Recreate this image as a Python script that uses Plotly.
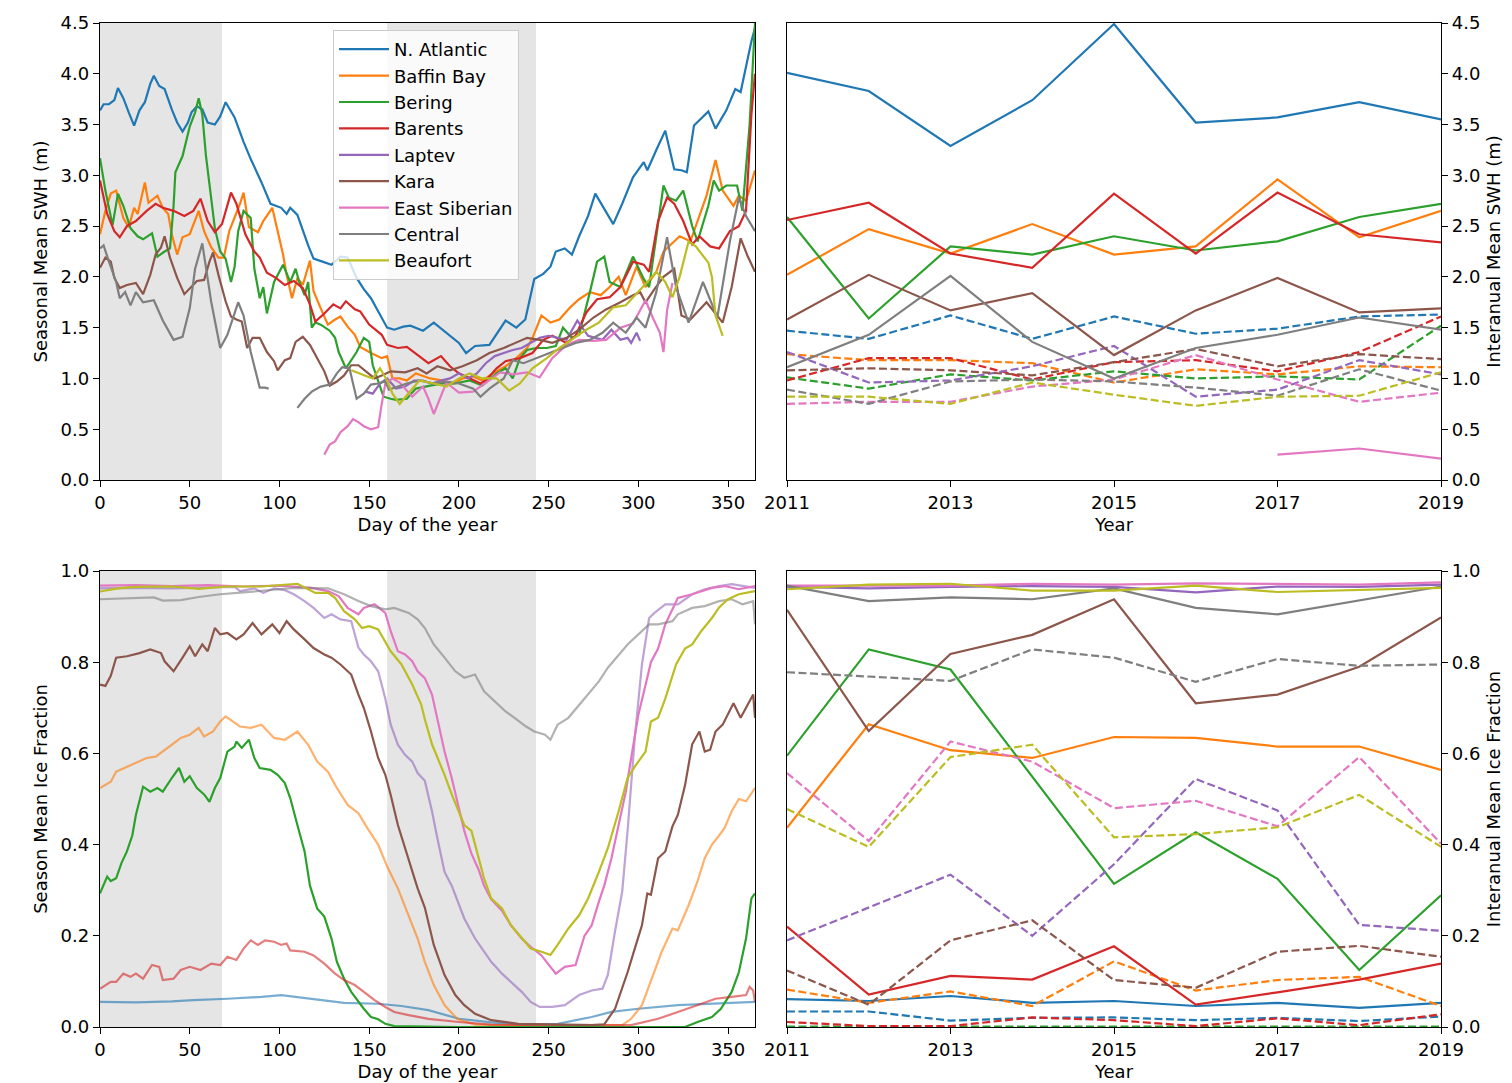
import plotly.graph_objects as go

# ---------------- categories / styling keys ----------------
REGIONS = ["N. Atlantic", "Baffin Bay", "Bering", "Barents", "Laptev",
           "Kara", "East Siberian", "Central", "Beaufort"]
COLORS = ["#1f77b4", "#ff7f0e", "#2ca02c", "#d62728", "#9467bd",
          "#8c564b", "#e377c2", "#7f7f7f", "#bcbd22"]
YEARS = [2011, 2012, 2013, 2014, 2015, 2016, 2017, 2018, 2019]
YEAR_TICKS = [2011, 2013, 2015, 2017, 2019]
DAY_TICKS = [0, 50, 100, 150, 200, 250, 300, 350]
SHADE_PERIODS = [(0, 68), (160, 243)]
ICE_FADED = ["N. Atlantic", "Baffin Bay", "Barents", "Laptev", "Central"]

# ---------------- seasonal mean SWH (day, m) ----------------
SWH_NATL = [(0,3.64),(2,3.70),(5,3.70),(8,3.74),(10,3.86),(13,3.76),(16,3.62),(19,3.49),(22,3.64),(25,3.72),
            (28,3.90),(30,3.98),(33,3.88),(36,3.85),(40,3.65),(43,3.52),(46,3.43),(49,3.52),(51,3.62),(54,3.68),
            (57,3.65),(60,3.52),(64,3.50),(67,3.58),(70,3.72),(75,3.57),(80,3.33),(84,3.16),(90,2.93),(95,2.72),
            (101,2.68),(104,2.62),(106,2.68),(110,2.61),(116,2.31),(119,2.18),(124,2.15),(129,2.12),(134,2.20),
            (138,2.19),(143,1.99),(147,1.88),(151,1.79),(155,1.66),(160,1.50),(164,1.48),(169,1.51),(173,1.52),
            (180,1.47),(186,1.55),(193,1.45),(200,1.35),(204,1.25),(209,1.32),(217,1.33),(226,1.57),(232,1.50),
            (237,1.58),(242,1.98),(247,2.03),(251,2.10),(254,2.25),(259,2.28),(263,2.22),(267,2.40),(272,2.60),
            (276,2.82),(280,2.70),(286,2.52),(291,2.72),(297,2.98),(303,3.13),(305,3.05),(310,3.25),(315,3.44),
            (320,3.06),(324,3.05),(327,3.03),(331,3.49),(339,3.63),(343,3.46),(349,3.64),(354,3.85),(357,3.82),
            (363,4.32),(365,4.45)]
SWH_BAFFIN = [(0,2.42),(3,2.65),(6,2.82),(9,2.85),(13,2.58),(16,2.49),(19,2.68),(21,2.62),(25,2.93),(27,2.73),
              (32,2.80),(35,2.68),(38,2.62),(40,2.42),(43,2.22),(46,2.39),(50,2.42),(55,2.65),(58,2.45),(62,2.29),
              (66,2.19),(69,2.19),(72,2.45),(76,2.62),(78,2.72),(80,2.83),(83,2.49),(88,2.44),(91,2.55),(96,2.68),
              (99,2.45),(102,2.22),(104,2.02),(107,1.79),(110,1.99),(113,1.92),(117,2.16),(119,1.86),(123,1.69),
              (127,1.53),(131,1.58),(134,1.61),(138,1.51),(142,1.43),(145,1.31),(151,1.25),(157,1.20),(160,1.22),
              (163,1.00),(167,1.00),(171,0.98),(176,1.05),(184,1.00),(191,0.98),(197,0.95),(202,1.00),(208,1.02),
              (213,0.98),(219,1.05),(226,1.12),(232,1.20),(238,1.30),(241,1.40),(246,1.62),(251,1.55),(256,1.58),
              (262,1.70),(267,1.78),(273,1.85),(279,1.82),(284,1.90),(289,2.00),(293,1.82),(299,2.10),(304,1.90),
              (310,2.05),(314,2.25),(317,2.30),(323,2.40),(329,2.35),(332,2.50),(338,2.80),(343,3.15),(347,2.85),
              (353,2.70),(356,2.80),(360,2.75),(365,3.05)]
SWH_BERING = [(0,3.17),(3,2.85),(7,2.51),(10,2.82),(13,2.70),(17,2.48),(21,2.40),(24,2.37),(29,2.43),(32,2.20),
              (36,2.25),(39,2.28),(41,2.70),(42,3.03),(46,3.19),(50,3.48),(53,3.62),(55,3.76),(57,3.60),(59,3.20),
              (61,2.91),(64,2.48),(67,2.25),(70,2.18),(73,1.95),(75,2.10),(77,2.45),(80,2.65),(84,2.58),(86,2.08),
              (89,1.79),(91,1.90),(93,1.64),(97,1.95),(102,2.12),(106,1.95),(109,2.08),(111,1.95),(114,1.82),
              (116,1.95),(118,1.50),(120,1.55),(123,1.53),(128,1.47),(131,1.40),(133,1.26),(137,1.10),(140,1.18),
              (143,1.26),(147,1.40),(150,1.36),(152,1.13),(156,0.91),(158,0.82),(162,0.80),(165,0.79),(171,0.80),
              (176,0.90),(184,0.93),(191,0.95),(198,0.95),(206,0.98),(213,0.93),(221,1.05),(226,1.10),(230,1.00),
              (234,1.20),(238,1.28),(243,1.30),(249,1.30),(254,1.32),(258,1.50),(263,1.40),(267,1.43),(273,1.85),
              (277,2.15),(281,2.20),(284,1.95),(290,1.90),(297,2.20),(303,1.98),(306,1.90),(310,2.40),(314,2.90),
              (317,2.78),(321,2.75),(325,2.85),(330,2.50),(333,2.35),(339,2.70),(342,2.95),(345,2.85),(349,2.90),
              (355,2.90),(358,2.65),(362,3.50),(365,4.50)]
SWH_BARENTS = [(0,2.95),(4,2.62),(8,2.45),(11,2.39),(15,2.50),(20,2.55),(26,2.65),(31,2.72),(35,2.68),(41,2.65),
               (47,2.60),(52,2.65),(56,2.77),(60,2.55),(64,2.44),(68,2.52),(73,2.83),(76,2.72),(81,2.42),(86,2.25),
               (89,2.19),(93,2.04),(98,1.99),(103,1.92),(108,1.96),(113,1.89),(117,1.73),(120,1.56),(125,1.64),
               (130,1.73),(134,1.69),(137,1.76),(142,1.68),(145,1.66),(150,1.53),(157,1.43),(160,1.33),(166,1.30),
               (171,1.31),(177,1.23),(183,1.15),(190,1.22),(195,1.12),(200,1.05),(206,1.00),(212,0.95),(215,0.98),
               (221,1.10),(226,1.17),(234,1.20),(241,1.25),(247,1.38),(252,1.42),(260,1.35),(265,1.42),(271,1.65),
               (277,1.78),(284,1.80),(290,1.90),(297,2.15),(303,2.12),(306,2.05),(311,2.55),(316,2.78),(320,2.72),
               (325,2.55),(330,2.32),(334,2.40),(340,2.30),(345,2.28),(351,2.45),(356,2.50),(360,2.65),(363,3.60),
               (365,4.00)]
SWH_LAPTEV = [(148,0.87),(152,0.85),(156,0.95),(160,1.00),(165,0.90),(170,0.92),(175,0.98),(180,0.98),(185,0.95),
              (190,0.98),(195,1.00),(200,1.05),(205,1.00),(210,1.05),(215,1.15),(220,1.22),(225,1.25),(230,1.28),
              (235,1.30),(240,1.35),(245,1.40),(250,1.42),(255,1.40),(260,1.38),(266,1.57),(272,1.42),(276,1.40),
              (280,1.38),(285,1.48),(290,1.38),(294,1.40),(296,1.35),(299,1.45),(301,1.37)]
SWH_KARA = [(0,2.09),(3,2.19),(6,2.15),(8,1.99),(11,1.89),(15,1.92),(20,1.94),(24,1.83),(28,2.02),(31,2.22),
            (34,2.29),(36,2.40),(39,2.19),(43,1.99),(47,1.83),(50,1.89),(54,1.96),(58,1.97),(61,2.15),(63,2.24),
            (66,2.02),(70,1.76),(73,1.61),(76,1.58),(79,1.56),(82,1.30),(85,1.40),(89,1.40),(93,1.26),(97,1.17),
            (99,1.08),(103,1.18),(106,1.20),(109,1.36),(113,1.41),(117,1.33),(121,1.20),(125,1.07),(128,0.93),
            (132,0.97),(136,1.03),(140,1.13),(144,1.13),(148,1.07),(153,1.00),(157,1.03),(162,1.07),(170,1.06),
            (177,1.10),(182,1.05),(188,1.12),(195,1.08),(202,1.12),(210,1.18),(217,1.25),(225,1.30),(232,1.35),
            (238,1.40),(245,1.38),(252,1.35),(260,1.40),(267,1.48),(275,1.60),(282,1.68),(290,1.75),(297,1.82),
            (301,1.85),(304,1.75),(309,1.88),(314,2.00),(320,2.08),(324,1.62),(329,1.58),(338,1.75),(347,1.55),
            (352,1.90),(357,2.38),(361,2.20),(365,2.05)]
SWH_ESIB = [(125,0.25),(128,0.35),(131,0.38),(134,0.47),(138,0.53),(141,0.60),(144,0.57),(147,0.53),(151,0.50),
            (155,0.52),(157,0.75),(159,0.95),(163,1.00),(167,0.96),(174,0.82),(180,0.92),(183,0.80),(186,0.65),
            (193,0.96),(200,0.86),(208,0.87),(215,0.96),(223,1.06),(230,1.04),(238,1.06),(245,1.01),(252,1.20),
            (260,1.33),(267,1.38),(275,1.37),(282,1.38),(290,1.50),(297,1.54),(304,1.77),(308,1.60),(312,1.45),
            (314,1.26),(316,1.67),(319,1.94)]
SWH_CENTRAL = [(0,2.28),(2,2.31),(5,2.15),(9,1.95),(11,1.79),(14,1.85),(17,1.72),(20,1.85),(24,1.75),(30,1.77),
               (35,1.57),(41,1.38),(46,1.41),(50,1.69),(53,2.08),(57,2.33),(62,1.75),(67,1.30),(71,1.43),(77,1.75),
               (80,1.62),(84,1.26),(89,0.91),(92,0.91),(94,0.90),(100,None),(110,0.71),(114,0.80),(118,0.87),
               (123,0.92),(128,0.94),(132,1.05),(135,1.11),(139,1.10),(143,0.80),(147,0.85),(151,0.94),(155,0.95),
               (159,0.97),(161,0.89),(171,0.95),(178,0.98),(186,0.95),(193,0.97),(200,0.95),(208,0.90),(212,0.82),
               (217,0.90),(225,1.00),(230,1.18),(236,1.15),(243,1.20),(251,1.25),(258,1.30),(265,1.35),(273,1.38),
               (280,1.45),(286,1.55),(293,1.45),(299,1.60),(304,1.50),(310,1.85),(316,2.39),(321,1.90),(328,1.55),
               (336,1.95),(344,1.60),(351,2.35),(356,2.78),(360,2.60),(365,2.45)]
SWH_BEAUFORT = [(140,1.08),(145,1.05),(149,1.02),(152,1.00),(156,1.10),(160,0.98),(163,0.85),(167,0.75),
                (172,0.85),(178,0.98),(186,0.95),(193,0.92),(200,1.00),(206,1.05),(213,1.00),(221,1.00),
                (228,0.88),(234,0.95),(241,1.10),(249,1.20),(256,1.30),(264,1.40),(271,1.48),(278,1.55),
                (286,1.70),(293,1.72),(300,1.85),(305,1.95),(310,2.05),(315,1.95),(319,1.80),(323,2.00),
                (328,2.35),(332,2.30),(339,2.14),(341,2.00),(343,1.62),(347,1.42)]

# ---------------- seasonal mean ice fraction (day, fraction) ----------------
ICE_NATL = [(0,0.055),(20,0.054),(40,0.056),(52,0.059),(71,0.062),(90,0.066),(101,0.070),(118,0.062),
            (136,0.053),(155,0.051),(168,0.046),(183,0.037),(200,0.018),(218,0.010),(237,0.005),(255,0.007),
            (274,0.022),(285,0.033),(300,0.040),(322,0.048),(345,0.051),(365,0.055)]
ICE_BAFFIN = [(0,0.524),(6,0.538),(9,0.56),(15,0.571),(20,0.579),(26,0.59),(31,0.593),(35,0.604),(40,0.619),
              (45,0.634),(50,0.641),(55,0.656),(58,0.637),(63,0.648),(67,0.67),(70,0.681),(75,0.667),(78,0.659),
              (84,0.656),(90,0.663),(97,0.634),(103,0.63),(110,0.648),(116,0.619),(121,0.582),(127,0.56),
              (132,0.524),(138,0.487),(144,0.469),(149,0.436),(155,0.40),(160,0.352),(166,0.304),(172,0.245),
              (177,0.194),(181,0.143),(186,0.092),(192,0.048),(199,0.018),(209,0.005),(240,0.003),(291,0.004),
              (296,0.018),(302,0.048),(307,0.10),(313,0.165),(319,0.216),(322,0.212),(328,0.267),(333,0.32),
              (337,0.37),(341,0.40),(345,0.42),(348,0.436),(352,0.473),(356,0.50),(360,0.495),(365,0.524)]
ICE_BERING = [(0,0.293),(4,0.33),(6,0.32),(9,0.326),(12,0.36),(15,0.385),(18,0.42),(20,0.465),(24,0.527),
              (28,0.516),(32,0.524),(35,0.516),(40,0.546),(44,0.568),(47,0.538),(50,0.55),(54,0.524),(58,0.51),
              (61,0.494),(64,0.524),(67,0.546),(71,0.604),(75,0.615),(76,0.626),(79,0.612),(83,0.63),(86,0.59),
              (89,0.568),(95,0.564),(99,0.553),(103,0.535),(106,0.502),(110,0.443),(114,0.385),(117,0.31),
              (121,0.26),(125,0.242),(129,0.194),(132,0.143),(136,0.106),(140,0.077),(144,0.055),(147,0.04),
              (151,0.022),(155,0.017),(159,0.007),(164,0.002),(200,0.0),(326,0.0),(333,0.011),(341,0.022),
              (346,0.04),(352,0.077),(356,0.12),(360,0.194),(363,0.282),(365,0.293)]
ICE_BARENTS = [(0,0.084),(6,0.099),(9,0.099),(13,0.117),(17,0.11),(20,0.117),(24,0.106),(29,0.136),(33,0.132),
               (35,0.103),(41,0.106),(45,0.125),(50,0.132),(56,0.125),(62,0.139),(67,0.136),(71,0.154),(76,0.147),
               (80,0.172),(84,0.19),(88,0.18),(92,0.19),(97,0.187),(101,0.18),(104,0.183),(106,0.168),(114,0.165),
               (119,0.157),(125,0.139),(131,0.117),(136,0.103),(142,0.092),(147,0.077),(153,0.059),(159,0.044),
               (164,0.033),(172,0.026),(183,0.018),(200,0.011),(218,0.005),(296,0.004),(304,0.011),(311,0.018),
               (322,0.033),(333,0.048),(343,0.062),(352,0.066),(360,0.07),(362,0.088),(364,0.08),(365,0.055)]
ICE_LAPTEV = [(0,0.962),(20,0.963),(40,0.962),(60,0.964),(75,0.965),(78,0.956),(86,0.962),(91,0.952),(97,0.962),
              (103,0.958),(108,0.949),(114,0.934),(119,0.919),(125,0.897),(129,0.905),(134,0.894),(140,0.89),
              (144,0.832),(147,0.817),(151,0.802),(155,0.78),(159,0.72),(162,0.663),(166,0.619),(170,0.597),
              (174,0.582),(177,0.557),(181,0.54),(185,0.473),(188,0.414),(192,0.34),(196,0.31),(200,0.267),
              (203,0.238),(209,0.194),(214,0.165),(218,0.143),(224,0.117),(229,0.099),(235,0.077),(240,0.055),
              (245,0.044),(252,0.044),(259,0.048),(267,0.07),(274,0.08),(280,0.084),(283,0.114),(287,0.21),
              (291,0.297),(294,0.43),(298,0.634),(302,0.795),(306,0.897),(309,0.908),(315,0.927),(322,0.927),
              (330,0.949),(337,0.96),(345,0.967),(352,0.971),(365,0.963)]
ICE_KARA = [(0,0.751),(3,0.748),(6,0.77),(9,0.81),(15,0.813),(19,0.817),(22,0.82),(28,0.828),(34,0.82),(36,0.802),
            (41,0.78),(46,0.81),(50,0.835),(53,0.813),(57,0.839),(60,0.824),(64,0.875),(67,0.861),(71,0.864),
            (76,0.85),(80,0.861),(85,0.886),(90,0.861),(96,0.883),(100,0.864),(104,0.89),(108,0.872),(114,0.85),
            (119,0.831),(125,0.817),(129,0.81),(134,0.795),(140,0.773),(144,0.729),(147,0.70),(151,0.648),
            (155,0.59),(159,0.553),(162,0.509),(166,0.443),(170,0.392),(174,0.34),(177,0.304),(181,0.262),
            (186,0.18),(192,0.114),(198,0.07),(203,0.048),(209,0.029),(218,0.015),(233,0.007),(274,0.004),
            (281,0.006),(287,0.04),(291,0.084),(294,0.12),(298,0.172),(302,0.223),(305,0.293),(307,0.29),
            (311,0.37),(315,0.385),(319,0.44),(322,0.465),(326,0.53),(330,0.62),(334,0.648),(337,0.604),
            (340,0.608),(343,0.648),(347,0.663),(350,0.685),(353,0.71),(357,0.678),(360,0.70),(364,0.729),
            (365,0.678)]
ICE_ESIB = [(0,0.968),(20,0.969),(40,0.967),(60,0.969),(80,0.966),(100,0.968),(118,0.963),(127,0.956),
            (133,0.945),(138,0.919),(144,0.905),(147,0.919),(153,0.927),(159,0.908),(162,0.868),(166,0.824),
            (170,0.817),(174,0.802),(177,0.78),(181,0.765),(185,0.729),(188,0.678),(192,0.604),(196,0.546),
            (200,0.48),(203,0.43),(207,0.38),(211,0.345),(214,0.31),(218,0.28),(224,0.255),(229,0.223),
            (235,0.194),(240,0.176),(246,0.157),(250,0.136),(254,0.117),(259,0.132),(265,0.136),(270,0.20),
            (274,0.223),(278,0.275),(281,0.31),(285,0.37),(289,0.443),(293,0.516),(296,0.59),(300,0.685),
            (304,0.75),(307,0.80),(311,0.83),(315,0.883),(319,0.916),(322,0.941),(330,0.949),(341,0.963),
            (348,0.967),(356,0.96),(365,0.967)]
ICE_CENTRAL = [(0,0.938),(15,0.94),(30,0.942),(35,0.935),(45,0.936),(55,0.943),(67,0.949),(80,0.953),(90,0.956),
               (108,0.963),(127,0.962),(136,0.949),(144,0.934),(151,0.923),(159,0.916),(164,0.919),(172,0.908),
               (177,0.894),(181,0.875),(186,0.839),(192,0.81),(198,0.78),(203,0.766),(209,0.773),(214,0.736),
               (220,0.714),(226,0.692),(231,0.678),(237,0.66),(242,0.648),(248,0.641),(251,0.63),(255,0.663),
               (261,0.678),(267,0.707),(272,0.729),(278,0.758),(283,0.788),(289,0.817),(294,0.839),(300,0.861),
               (306,0.883),(311,0.883),(319,0.89),(322,0.905),(330,0.919),(337,0.923),(345,0.934),(352,0.938),
               (358,0.927),(364,0.934),(365,0.883)]
ICE_BEAUFORT = [(0,0.955),(10,0.962),(20,0.965),(40,0.966),(55,0.961),(70,0.966),(90,0.966),(110,0.972),
                (116,0.96),(120,0.952),(127,0.952),(131,0.941),(136,0.912),(142,0.894),(146,0.875),(150,0.879),
                (155,0.872),(159,0.846),(162,0.824),(168,0.795),(174,0.751),(179,0.707),(181,0.675),(185,0.62),
                (188,0.593),(192,0.553),(196,0.51),(200,0.473),(203,0.443),(207,0.43),(211,0.37),(214,0.326),
                (218,0.282),(224,0.26),(229,0.223),(235,0.194),(240,0.172),(246,0.165),(251,0.158),(255,0.18),
                (261,0.216),(267,0.245),(272,0.282),(278,0.34),(283,0.392),(289,0.473),(294,0.546),(298,0.571),
                (304,0.604),(307,0.67),(311,0.678),(315,0.72),(321,0.795),(326,0.83),(330,0.839),(335,0.868),
                (341,0.897),(345,0.92),(350,0.938),(356,0.949),(365,0.956)]

# ---------------- interannual mean SWH (m), one value per year ----------------
IA_SWH_SOLID_NATL = [4.01, 3.83, 3.29, 3.74, 4.49, 3.52, 3.57, 3.72, 3.55]
IA_SWH_SOLID_BAFFIN = [2.02, 2.47, 2.23, 2.52, 2.22, 2.30, 2.96, 2.39, 2.65]
IA_SWH_SOLID_BERING = [2.59, 1.59, 2.30, 2.22, 2.40, 2.26, 2.35, 2.59, 2.72]
IA_SWH_SOLID_BARENTS = [2.56, 2.73, 2.23, 2.09, 2.82, 2.23, 2.83, 2.42, 2.34]
IA_SWH_SOLID_LAPTEV = [None] * 9
IA_SWH_SOLID_KARA = [1.58, 2.02, 1.67, 1.84, 1.23, 1.67, 1.99, 1.65, 1.69]
IA_SWH_SOLID_ESIB = [None, None, None, None, None, None, 0.25, 0.31, 0.21]
IA_SWH_SOLID_CENTRAL = [1.11, 1.43, 2.01, 1.36, 1.00, 1.30, 1.43, 1.60, 1.48]
IA_SWH_SOLID_BEAUFORT = [None] * 9

IA_SWH_DASH_NATL = [1.47, 1.39, 1.62, 1.39, 1.61, 1.44, 1.49, 1.61, 1.63]
IA_SWH_DASH_BAFFIN = [1.24, 1.18, 1.18, 1.15, 0.96, 1.09, 1.04, 1.12, 1.11]
IA_SWH_DASH_BERING = [1.01, 0.90, 1.04, 0.98, 1.07, 1.00, 1.02, 0.99, 1.52]
IA_SWH_DASH_BARENTS = [0.98, 1.20, 1.20, 0.99, 1.16, 1.18, 1.07, 1.26, 1.61]
IA_SWH_DASH_LAPTEV = [1.26, 0.96, 0.98, 1.12, 1.32, 0.82, 0.89, 1.18, 1.04]
IA_SWH_DASH_KARA = [1.08, 1.10, 1.08, 1.03, 1.16, 1.29, 1.12, 1.24, 1.19]
IA_SWH_DASH_ESIB = [0.75, 0.77, 0.77, 0.92, 0.99, 1.23, 0.99, 0.77, 0.86]
IA_SWH_DASH_CENTRAL = [0.89, 0.75, 0.97, 0.99, 0.97, 0.91, 0.83, 1.09, 0.88]
IA_SWH_DASH_BEAUFORT = [0.82, 0.82, 0.75, 0.96, 0.84, 0.73, 0.82, 0.83, 1.06]

# ---------------- interannual mean ice fraction, one value per year ----------------
IA_ICE_SOLID_NATL = [0.061, 0.057, 0.068, 0.053, 0.057, 0.046, 0.053, 0.042, 0.053]
IA_ICE_SOLID_BAFFIN = [0.437, 0.664, 0.607, 0.590, 0.636, 0.634, 0.615, 0.615, 0.564]
IA_ICE_SOLID_BERING = [0.595, 0.828, 0.784, 0.550, 0.314, 0.427, 0.325, 0.125, 0.289]
IA_ICE_SOLID_BARENTS = [0.220, 0.071, 0.112, 0.104, 0.177, 0.049, 0.076, 0.104, 0.139]
IA_ICE_SOLID_LAPTEV = [0.965, 0.962, 0.965, 0.967, 0.965, 0.953, 0.966, 0.965, 0.970]
IA_ICE_SOLID_KARA = [0.915, 0.649, 0.818, 0.860, 0.938, 0.710, 0.729, 0.790, 0.898]
IA_ICE_SOLID_ESIB = [0.968, 0.968, 0.968, 0.972, 0.970, 0.973, 0.972, 0.970, 0.975]
IA_ICE_SOLID_CENTRAL = [0.968, 0.934, 0.942, 0.938, 0.962, 0.919, 0.905, 0.936, 0.966]
IA_ICE_SOLID_BEAUFORT = [0.960, 0.970, 0.972, 0.957, 0.957, 0.968, 0.954, 0.959, 0.963]

IA_ICE_DASH_NATL = [0.034, 0.034, 0.014, 0.020, 0.021, 0.015, 0.020, 0.013, 0.023]
IA_ICE_DASH_BAFFIN = [0.082, 0.053, 0.078, 0.046, 0.144, 0.080, 0.103, 0.110, 0.046]
IA_ICE_DASH_BERING = [0.001, 0.001, 0.001, 0.001, 0.001, 0.001, 0.001, 0.001, 0.001]
IA_ICE_DASH_BARENTS = [0.011, 0.002, 0.002, 0.021, 0.015, 0.002, 0.019, 0.004, 0.028]
IA_ICE_DASH_LAPTEV = [0.190, 0.262, 0.334, 0.200, 0.357, 0.544, 0.475, 0.224, 0.211]
IA_ICE_DASH_KARA = [0.124, 0.049, 0.190, 0.234, 0.103, 0.086, 0.165, 0.178, 0.154]
IA_ICE_DASH_ESIB = [0.557, 0.408, 0.626, 0.582, 0.480, 0.496, 0.440, 0.592, 0.402]
IA_ICE_DASH_CENTRAL = [0.778, 0.768, 0.759, 0.828, 0.810, 0.757, 0.807, 0.792, 0.795]
IA_ICE_DASH_BEAUFORT = [0.478, 0.395, 0.592, 0.619, 0.416, 0.423, 0.438, 0.509, 0.395]

SWH_SEASONAL = [SWH_NATL, SWH_BAFFIN, SWH_BERING, SWH_BARENTS, SWH_LAPTEV,
                SWH_KARA, SWH_ESIB, SWH_CENTRAL, SWH_BEAUFORT]
ICE_SEASONAL = [ICE_NATL, ICE_BAFFIN, ICE_BERING, ICE_BARENTS, ICE_LAPTEV,
                ICE_KARA, ICE_ESIB, ICE_CENTRAL, ICE_BEAUFORT]
IA_SWH_SOLID = [IA_SWH_SOLID_NATL, IA_SWH_SOLID_BAFFIN, IA_SWH_SOLID_BERING, IA_SWH_SOLID_BARENTS,
                IA_SWH_SOLID_LAPTEV, IA_SWH_SOLID_KARA, IA_SWH_SOLID_ESIB, IA_SWH_SOLID_CENTRAL,
                IA_SWH_SOLID_BEAUFORT]
IA_SWH_DASH = [IA_SWH_DASH_NATL, IA_SWH_DASH_BAFFIN, IA_SWH_DASH_BERING, IA_SWH_DASH_BARENTS,
               IA_SWH_DASH_LAPTEV, IA_SWH_DASH_KARA, IA_SWH_DASH_ESIB, IA_SWH_DASH_CENTRAL,
               IA_SWH_DASH_BEAUFORT]
IA_ICE_SOLID = [IA_ICE_SOLID_NATL, IA_ICE_SOLID_BAFFIN, IA_ICE_SOLID_BERING, IA_ICE_SOLID_BARENTS,
                IA_ICE_SOLID_LAPTEV, IA_ICE_SOLID_KARA, IA_ICE_SOLID_ESIB, IA_ICE_SOLID_CENTRAL,
                IA_ICE_SOLID_BEAUFORT]
IA_ICE_DASH = [IA_ICE_DASH_NATL, IA_ICE_DASH_BAFFIN, IA_ICE_DASH_BERING, IA_ICE_DASH_BARENTS,
               IA_ICE_DASH_LAPTEV, IA_ICE_DASH_KARA, IA_ICE_DASH_ESIB, IA_ICE_DASH_CENTRAL,
               IA_ICE_DASH_BEAUFORT]

# ---------------- figure ----------------
W, H = 1512, 1083
FONT = "DejaVu Sans"
FS = 18
LW = 2.2
DASH = "8px,3.5px"

fig = go.Figure()


def unzip(pairs):
    return [p[0] for p in pairs], [p[1] for p in pairs]


for i, name in enumerate(REGIONS):
    d, v = unzip(SWH_SEASONAL[i])
    fig.add_trace(go.Scatter(x=d, y=v, mode="lines", name=name, legendgroup=name,
                             line=dict(color=COLORS[i], width=LW), xaxis="x", yaxis="y",
                             connectgaps=False))
for i, name in enumerate(REGIONS):
    fig.add_trace(go.Scatter(x=YEARS, y=IA_SWH_SOLID[i], mode="lines", name=name, legendgroup=name,
                             showlegend=False, line=dict(color=COLORS[i], width=LW),
                             xaxis="x2", yaxis="y2"))
    fig.add_trace(go.Scatter(x=YEARS, y=IA_SWH_DASH[i], mode="lines", name=name, legendgroup=name,
                             showlegend=False, line=dict(color=COLORS[i], width=LW, dash=DASH),
                             xaxis="x2", yaxis="y2"))
for i, name in enumerate(REGIONS):
    d, v = unzip(ICE_SEASONAL[i])
    fig.add_trace(go.Scatter(x=d, y=v, mode="lines", name=name, legendgroup=name, showlegend=False,
                             opacity=0.6 if name in ICE_FADED else 1.0,
                             line=dict(color=COLORS[i], width=LW), xaxis="x3", yaxis="y3"))
for i, name in enumerate(REGIONS):
    fig.add_trace(go.Scatter(x=YEARS, y=IA_ICE_SOLID[i], mode="lines", name=name, legendgroup=name,
                             showlegend=False, line=dict(color=COLORS[i], width=LW),
                             xaxis="x4", yaxis="y4"))
    fig.add_trace(go.Scatter(x=YEARS, y=IA_ICE_DASH[i], mode="lines", name=name, legendgroup=name,
                             showlegend=False, line=dict(color=COLORS[i], width=LW, dash=DASH),
                             xaxis="x4", yaxis="y4"))

shapes = []
for (s, e) in SHADE_PERIODS:
    for xr, yr in (("x", "y domain"), ("x3", "y3 domain")):
        shapes.append(dict(type="rect", xref=xr, yref=yr, x0=s, x1=e, y0=0, y1=1,
                           fillcolor="#e5e5e5", line=dict(width=0), layer="below"))

XL = [100 / W, 755 / W]
XR = [787 / W, 1441 / W]
YT = [1 - 480 / H, 1 - 23 / H]
YB = [1 - 1027 / H, 1 - 571 / H]

common = dict(showline=True, linecolor="black", linewidth=1.3, mirror=True, ticks="outside",
              ticklen=6, tickwidth=1.3, tickcolor="black", showgrid=False, zeroline=False,
              automargin=False, tickfont=dict(family=FONT, size=FS, color="black"))


def ttl(text, standoff):
    return dict(text=text, font=dict(family=FONT, size=FS, color="black"), standoff=standoff)


fig.update_layout(
    template="none",
    width=W, height=H,
    margin=dict(l=0, r=0, t=0, b=0),
    paper_bgcolor="white", plot_bgcolor="white",
    font=dict(family=FONT, size=FS, color="black"),
    shapes=shapes,
    showlegend=True,
    legend=dict(x=333 / W, y=1 - 30 / H, xanchor="left", yanchor="top",
                bgcolor="rgba(255,255,255,0.8)", bordercolor="#cccccc", borderwidth=1,
                itemwidth=50,
                font=dict(family=FONT, size=FS, color="black"), tracegroupgap=0),
    xaxis=dict(domain=XL, anchor="y", range=[0, 365], tickvals=DAY_TICKS,
               title=ttl("Day of the year", 6), **common),
    yaxis=dict(domain=YT, anchor="x", range=[0, 4.5], dtick=0.5, tick0=0, tickformat=".1f",
               title=ttl("Seasonal Mean SWH (m)", 8), **common),
    xaxis2=dict(domain=XR, anchor="y2", range=[2011, 2019], tickvals=YEAR_TICKS,
                title=ttl("Year", 6), **common),
    yaxis2=dict(domain=YT, anchor="x2", side="right", range=[0, 4.5], dtick=0.5, tick0=0,
                tickformat=".1f", title=ttl("Interanual Mean SWH (m)", 8), **common),
    xaxis3=dict(domain=XL, anchor="y3", range=[0, 365], tickvals=DAY_TICKS,
                title=ttl("Day of the year", 6), **common),
    yaxis3=dict(domain=YB, anchor="x3", range=[0, 1], dtick=0.2, tick0=0, tickformat=".1f",
                title=ttl("Season Mean Ice Fraction", 8), **common),
    xaxis4=dict(domain=XR, anchor="y4", range=[2011, 2019], tickvals=YEAR_TICKS,
                title=ttl("Year", 6), **common),
    yaxis4=dict(domain=YB, anchor="x4", side="right", range=[0, 1], dtick=0.2, tick0=0,
                tickformat=".1f", title=ttl("Interanual Mean Ice Fraction", 8), **common),
)

fig.write_html("out.html", config={"displayModeBar": False},
               post_script="document.body.style.margin='0';document.body.style.overflow='hidden';")
